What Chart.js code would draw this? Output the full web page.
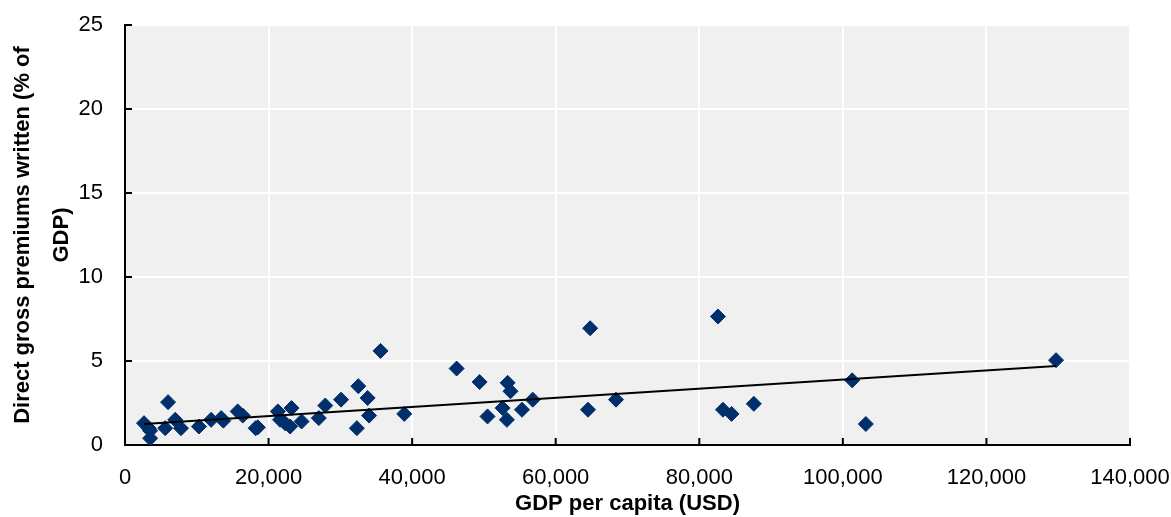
<!DOCTYPE html>
<html lang="en">
  <head>
    <meta charset="utf-8" />
    <title>Direct gross premiums vs GDP per capita</title>
    <script src="https://cdn.jsdelivr.net/npm/chart.js@4.4.1/dist/chart.umd.min.js"></script>
    <style>
      html, body { margin: 0; padding: 0; background: #fff; }
      #wrap { width: 1171px; height: 517px; position: relative; }
    </style>
  </head>
  <body>
    <div id="wrap"><canvas id="myChart"></canvas></div>
    <script>
      // GDP per capita (USD), one entry per country
      var gdpPerCapita = [2650, 3300, 3500, 3500, 5600, 6000, 7000, 7800, 10300, 12000,
        13400, 13700, 15700, 16400, 18200, 18500, 21300, 21600, 22300, 23000,
        23200, 24600, 27000, 27900, 30100, 32300, 32500, 33800, 34000, 35600,
        38900, 46200, 49400, 50500, 52600, 53200, 53300, 53700, 55300, 56800,
        64500, 64800, 68400, 82600, 83300, 84500, 87600, 101300, 103200, 129700];
      // direct gross premiums written (% of GDP)
      var premiumsPct = [1.3, 1.0, 0.85, 0.4, 1.0, 2.55, 1.5, 1.0, 1.1, 1.5,
        1.6, 1.45, 2.0, 1.75, 1.0, 1.05, 2.0, 1.5, 1.3, 1.1,
        2.2, 1.4, 1.6, 2.35, 2.7, 1.0, 3.5, 2.8, 1.75, 5.6,
        1.85, 4.55, 3.75, 1.7, 2.2, 1.5, 3.7, 3.2, 2.1, 2.7,
        2.1, 6.95, 2.7, 7.65, 2.1, 1.85, 2.45, 3.85, 1.25, 5.05];
      // trend line end points
      var trendX = [2650, 129700];
      var trendY = [1.25, 4.7];

      var xTicks = [0, 20000, 40000, 60000, 80000, 100000, 120000, 140000];
      var yTicks = [0, 5, 10, 15, 20, 25];

      var tickFont = { family: "'Liberation Sans Narrow', 'Arial Narrow', 'Liberation Sans', sans-serif", size: 22 };
      var titleFont = { family: "'Liberation Sans', Arial, sans-serif", size: 22, weight: "bold" };

      // grey plot background
      const plotBg = {
        id: "plotBg",
        beforeDraw(chart) {
          const { ctx, chartArea: { left, top, width, height } } = chart;
          ctx.save();
          ctx.fillStyle = "#f0f0f0";
          ctx.fillRect(left, top, width, height);
          ctx.restore();
        },
      };

      // small tick marks pointing into the plot
      const innerTicks = {
        id: "innerTicks",
        afterDraw(chart) {
          const { ctx, chartArea: { left, bottom }, scales: { x, y } } = chart;
          ctx.save();
          ctx.strokeStyle = "#000";
          ctx.lineWidth = 2;
          ctx.beginPath();
          xTicks.forEach(function (v) {
            var px = x.getPixelForValue(v);
            ctx.moveTo(px, bottom);
            ctx.lineTo(px, bottom - 7);
          });
          yTicks.forEach(function (v) {
            var py = y.getPixelForValue(v);
            ctx.moveTo(left, py);
            ctx.lineTo(left + 7, py);
          });
          ctx.stroke();
          ctx.restore();
        },
      };

      var points = gdpPerCapita.map(function (g, i) {
        return { x: g, y: premiumsPct[i] };
      });
      var trend = trendX.map(function (g, i) {
        return { x: g, y: trendY[i] };
      });

      const config = {
        type: "scatter",
        data: {
          datasets: [
            {
              label: "Trend",
              type: "line",
              data: trend,
              borderColor: "#000",
              borderWidth: 2,
              pointRadius: 0,
              fill: false,
              order: 0,
            },
            {
              label: "Countries",
              data: points,
              pointStyle: "rectRot",
              pointRadius: 7.5,
              pointHoverRadius: 7.5,
              backgroundColor: "#002f6c",
              borderColor: "#002f6c",
              borderWidth: 1,
              order: 1,
            },
          ],
        },
        options: {
          responsive: false,
          animation: false,
          layout: { padding: { top: 25, right: 41, left: 0, bottom: 0 } },
          plugins: { legend: { display: false }, tooltip: { enabled: false } },
          scales: {
            x: {
              type: "linear",
              min: 0,
              max: 140000,
              afterBuildTicks(scale) {
                scale.ticks = xTicks.map(function (v) { return { value: v }; });
              },
              afterFit(scale) {
                scale.height = 72;
                scale.paddingLeft = 0;
                scale.paddingRight = 0;
              },
              grid: { color: "#ffffff", lineWidth: 2, drawTicks: false },
              border: { display: true, color: "#000", width: 2 },
              ticks: {
                color: "#000",
                font: tickFont,
                padding: 20,
                maxRotation: 0,
                autoSkip: false,
                callback: function (v) { return v.toLocaleString("en-US"); },
              },
              title: {
                display: true,
                text: "GDP per capita (USD)",
                color: "#000",
                font: titleFont,
                padding: { top: 0, bottom: 0 },
              },
            },
            y: {
              min: 0,
              max: 25,
              afterBuildTicks(scale) {
                scale.ticks = yTicks.map(function (v) { return { value: v }; });
              },
              afterFit(scale) {
                scale.width = 125;
                scale.paddingTop = 0;
                scale.paddingBottom = 0;
              },
              grid: { color: "#ffffff", lineWidth: 2, drawTicks: false },
              border: { display: true, color: "#000", width: 2 },
              ticks: {
                color: "#000",
                font: tickFont,
                padding: 22,
              },
              title: {
                display: true,
                text: ["Direct gross premiums written (% of", "GDP)"],
                color: "#000",
                font: Object.assign({ lineHeight: 1.75 }, titleFont),
                padding: { top: 4, bottom: 0 },
              },
            },
          },
        },
        plugins: [plotBg, innerTicks],
      };

      var canvas = document.getElementById("myChart");
      canvas.width = 1171;
      canvas.height = 517;
      var myChart = new Chart(canvas, config);
    </script>
  </body>
</html>
